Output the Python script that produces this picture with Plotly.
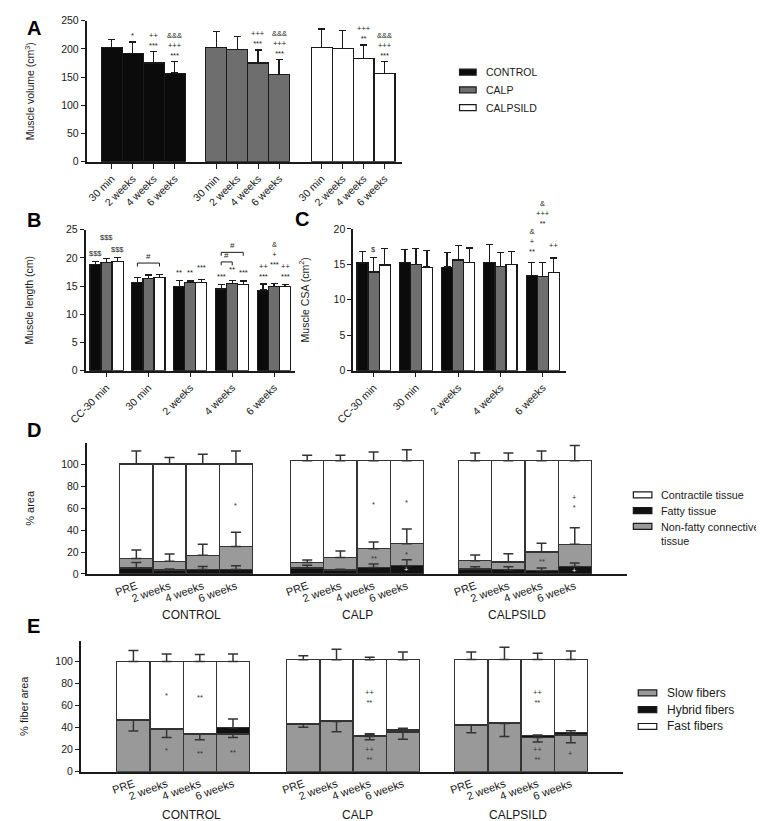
import numpy as np
import plotly.graph_objects as go

W, H = 764, 821
FONT = "Liberation Sans, Arial, sans-serif"
INK = "#1a1a1a"

# ---------------------------------------------------------------- data
groups = ["CONTROL", "CALP", "CALPSILD"]

# Panel A - muscle volume (cm3)
times_a = ["30 min", "2 weeks", "4 weeks", "6 weeks"]
vol_control = [203, 192, 175, 157]
vol_calp = [202, 199, 175, 155]
vol_calpsild = [203, 200, 183, 156]
vol_control_err = [14, 20, 20, 20]
vol_calp_err = [29, 23, 23, 26]
vol_calpsild_err = [32, 33, 24, 21]
vol_control_sig = ["", "*", "++<br>***", "&&&<br>+++<br>***"]
vol_calp_sig = ["", "", "+++<br>***", "&&&<br>+++<br>***"]
vol_calpsild_sig = ["", "", "+++<br>**", "&&&<br>+++<br>***"]

# Panel B - muscle length (cm)
times_bc = ["CC-30 min", "30 min", "2 weeks", "4 weeks", "6 weeks"]
len_control = [18.8, 15.6, 14.9, 14.5, 14.3]
len_calp = [19.2, 16.4, 15.6, 15.5, 14.9]
len_calpsild = [19.4, 16.5, 15.7, 15.3, 14.9]
len_control_err = [0.6, 0.9, 1.1, 0.8, 1.1]
len_calp_err = [0.7, 0.6, 0.3, 0.5, 0.6]
len_calpsild_err = [0.7, 0.6, 0.5, 0.6, 0.4]
len_control_sig = ["$$$", "", "**", "***", "++<br>***"]
len_calp_sig = ["$$$", "", "**", "**", "&<br>+<br>***"]
len_calpsild_sig = ["$$$", "", "***", "***", "++<br>***"]

# Panel C - muscle CSA (cm2)
csa_control = [15.2, 15.3, 14.6, 15.3, 13.4]
csa_calp = [13.9, 15.0, 15.6, 14.7, 13.3]
csa_calpsild = [14.9, 14.6, 15.3, 15.0, 13.8]
csa_control_err = [1.6, 1.8, 2.1, 2.5, 1.9]
csa_calp_err = [2.1, 2.2, 2.0, 2.0, 2.0]
csa_calpsild_err = [2.3, 2.3, 2.0, 1.8, 2.1]
csa_control_sig = ["", "", "", "", "&<br>+<br>**"]
csa_calp_sig = ["$", "", "", "", "&<br>+++<br>**"]
csa_calpsild_sig = ["", "", "", "", "++"]

# Panel D - % area
times_de = ["PRE", "2 weeks", "4 weeks", "6 weeks"]
fatty = {"CONTROL": [5.4, 3.6, 4.2, 4.0], "CALP": [5.4, 3.6, 6.0, 7.5], "CALPSILD": [4.5, 3.9, 3.0, 6.9]}
connective = {"CONTROL": [8.6, 8.0, 12.8, 21.0], "CALP": [5.0, 11.4, 17.0, 20.0], "CALPSILD": [7.5, 7.1, 17.0, 20.1]}
contractile = {"CONTROL": [86.0, 88.4, 83.0, 75.0], "CALP": [92.6, 88.0, 80.0, 75.5], "CALPSILD": [91.0, 92.0, 83.0, 76.0]}
fatty_err = {"CONTROL": [5.0, 1.0, 2.7, 3.5], "CALP": [2.5, 0.8, 3.0, 5.5], "CALPSILD": [2.1, 2.7, 2.4, 3.1]}
connective_err = {"CONTROL": [7.8, 6.6, 10.0, 13.0], "CALP": [2.4, 6.0, 6.0, 13.5], "CALPSILD": [5.3, 7.5, 8.0, 15.0]}
contractile_err = {"CONTROL": [12.0, 6.0, 9.0, 12.0], "CALP": [5.0, 5.0, 8.0, 10.0], "CALPSILD": [7.0, 7.0, 9.0, 14.0]}
contractile_sig = {"CONTROL": ["", "", "", "*"], "CALP": ["", "", "*", "*"], "CALPSILD": ["", "", "", "+<br>*"]}
connective_sig = {"CONTROL": ["", "", "", ""], "CALP": ["", "", "**", "*"], "CALPSILD": ["", "", "**", ""]}
fatty_sig = {"CONTROL": ["", "", "", ""], "CALP": ["", "", "", "+"], "CALPSILD": ["", "", "", "+"]}

# Panel E - % fiber area
slow = {"CONTROL": [46.9, 38.5, 34.0, 34.3], "CALP": [43.3, 45.7, 32.0, 36.0], "CALPSILD": [42.4, 43.9, 31.0, 33.4]}
hybrid = {"CONTROL": [0.4, 0.4, 0.4, 5.7], "CALP": [0.4, 0.4, 1.2, 2.0], "CALPSILD": [0.4, 0.4, 1.8, 2.1]}
fast = {"CONTROL": [52.7, 61.1, 65.6, 60.0], "CALP": [58.1, 55.7, 68.6, 63.8], "CALPSILD": [59.2, 57.7, 69.2, 66.5]}
slow_err = {"CONTROL": [10.0, 7.5, 5.0, 3.3], "CALP": [3.0, 9.3, 3.0, 6.5], "CALPSILD": [7.0, 12.0, 4.0, 7.0]}
hybrid_err = {"CONTROL": [0, 0, 0, 8.0], "CALP": [0, 0, 1.2, 1.5], "CALPSILD": [0, 0, 0.6, 1.8]}
fast_err = {"CONTROL": [10.0, 7.0, 6.5, 7.0], "CALP": [3.5, 9.5, 2.2, 7.0], "CALPSILD": [6.7, 11.0, 5.5, 7.6]}
fast_sig = {"CONTROL": ["", "*", "**", ""], "CALP": ["", "", "++<br>**", ""], "CALPSILD": ["", "", "++<br>**", ""]}
slow_sig = {"CONTROL": ["", "*", "**", "**"], "CALP": ["", "", "++<br>**", ""], "CALPSILD": ["", "", "++<br>**", "+"]}

# ---------------------------------------------------------------- layout helpers
def xdom(a, b):
    return [a / W, b / W]

def ydom(top, bottom):
    return [1 - bottom / H, 1 - top / H]

def px(a):
    return a / W

def py(b):
    return 1 - b / H

GROUP_FILL = {"CONTROL": "#0b0b0b", "CALP": "#6e6e6e", "CALPSILD": "#ffffff"}

fig = go.Figure()
annotations = []
shapes = []

axis_common = dict(showline=True, linecolor=INK, linewidth=1.5, showgrid=False, zeroline=False,
                   ticks="outside", tickcolor=INK, tickwidth=1.3, ticklen=4,
                   tickfont=dict(size=10.5, family=FONT, color=INK))


def sig_label(x, y, text, xref, yref, shift=1, size=7.5, color=INK):
    if not text:
        return
    annotations.append(dict(x=x, y=y, xref=xref, yref=yref, text=text, showarrow=False,
                            yanchor="bottom", yshift=shift, font=dict(size=size, family=FONT, color=color)))


def bar_trace(xs, ys, width, fill, xa, ya, err=None, name=None):
    kw = {}
    if err is not None:
        kw["error_y"] = dict(type="data", array=err, arrayminus=[0] * len(err), symmetric=False,
                             color=INK, thickness=1.3, width=3.5)
    return go.Bar(x=xs, y=ys, width=width, marker=dict(color=fill, line=dict(color=INK, width=1.2)),
                  xaxis=xa, yaxis=ya, showlegend=False, hoverinfo="skip", name=name, **kw)


# ---------------------------------------------------------------- Panel A
A_X0 = [77, 184, 292]
A_BW = 21.5
a_vals = [vol_control, vol_calp, vol_calpsild]
a_errs = [vol_control_err, vol_calp_err, vol_calpsild_err]
a_sigs = [vol_control_sig, vol_calp_sig, vol_calpsild_sig]
a_tickvals, a_ticktext = [], []
for g, name in enumerate(groups):
    xs = [A_X0[g] + (i + 0.5) * A_BW for i in range(len(times_a))]
    fig.add_trace(bar_trace(xs, a_vals[g], A_BW, GROUP_FILL[name], "x", "y", a_errs[g], name))
    a_tickvals += xs
    a_ticktext += times_a
    for i, t in enumerate(a_sigs[g]):
        sig_label(xs[i], a_vals[g][i] + a_errs[g][i], t, "x", "y", shift=0, size=7.5)

# ---------------------------------------------------------------- Panel B & C
def grouped_panel(xa, ya, x_first, step, bw, vals, errs, sigs, shifts):
    centers = [x_first + k * step for k in range(len(times_bc))]
    for g, name in enumerate(groups):
        xs = [c + (g - 1) * bw for c in centers]
        fig.add_trace(bar_trace(xs, vals[g], bw, GROUP_FILL[name], xa, ya, errs[g], name))
        for i, t in enumerate(sigs[g]):
            sig_label(xs[i], vals[g][i] + errs[g][i], t, xa, ya, shift=shifts[g][i], size=7.5)
    return centers

B_BW = 11.3
b_vals = [len_control, len_calp, len_calpsild]
b_errs = [len_control_err, len_calp_err, len_calpsild_err]
b_sigs = [len_control_sig, len_calp_sig, len_calpsild_sig]
b_shift = [[1, 0, 2, 1, 1], [15, 0, 2, 5, 12], [1, 0, 5, 2, 1]]
b_centers = grouped_panel("x2", "y2", 82.5, 42.9, B_BW, b_vals, b_errs, b_sigs, b_shift)

# brackets (#) in panel B: (time index, bar a, bar b, offset above highest error bar)
b_brackets = [(1, 0, 2, 2.0), (3, 0, 1, 3.3), (3, 0, 2, 5.0)]
for t, i, j, off in b_brackets:
    xa_ = b_centers[t] + (i - 1) * B_BW
    xb_ = b_centers[t] + (j - 1) * B_BW
    top = max(b_vals[k][t] + b_errs[k][t] for k in range(3)) + off
    shapes.append(dict(type="path", xref="x2", yref="y2",
                       path=f"M {xa_},{top - 0.6} L {xa_},{top} L {xb_},{top} L {xb_},{top - 0.6}",
                       line=dict(color=INK, width=1)))
    sig_label((xa_ + xb_) / 2, top, "#", "x2", "y2", shift=0, size=8)

C_BW = 11.3
c_vals = [csa_control, csa_calp, csa_calpsild]
c_errs = [csa_control_err, csa_calp_err, csa_calpsild_err]
c_sigs = [csa_control_sig, csa_calp_sig, csa_calpsild_sig]
c_shift = [[1, 1, 1, 1, 4], [1, 1, 1, 1, 32], [1, 1, 1, 1, 6]]
c_centers = grouped_panel("x3", "y3", 356, 43.3, C_BW, c_vals, c_errs, c_sigs, c_shift)

# ---------------------------------------------------------------- Panel D & E (stacked)
D_X0 = [96, 271, 443]
E_X0 = [93, 267, 439]
SEG_W = 34


def err_trace(xs, ys, up, down, xa, ya):
    keep = [k for k in range(len(xs)) if (up[k] > 0 or down[k] > 0)]
    return go.Scatter(x=[xs[k] for k in keep], y=[ys[k] for k in keep], mode="markers",
                      marker=dict(color="rgba(0,0,0,0)", size=1), xaxis=xa, yaxis=ya,
                      showlegend=False, hoverinfo="skip",
                      error_y=dict(type="data", symmetric=False, array=[up[k] for k in keep],
                                   arrayminus=[down[k] for k in keep], color="#333333",
                                   thickness=1.5, width=5))


def stacked_panel(xa, ya, x0s, segs, seg_fills, errs_up, errs_down, sig_lists, sig_colors):
    tickvals, ticktext = [], []
    for g, name in enumerate(groups):
        xs = [x0s[g] + (i + 0.5) * SEG_W for i in range(len(times_de))]
        tickvals += xs
        ticktext += times_de
        base = np.zeros(len(xs))
        for s, seg in enumerate(segs):
            vals = np.array(seg[name], dtype=float)
            fig.add_trace(go.Bar(x=xs, y=vals, width=SEG_W, xaxis=xa, yaxis=ya, showlegend=False,
                                 hoverinfo="skip",
                                 marker=dict(color=seg_fills[s], line=dict(color="#333333", width=1.3))))
            top = base + vals
            up = errs_up[s][name] if errs_up[s] is not None else [0] * len(xs)
            down = errs_down[s][name] if errs_down[s] is not None else [0] * len(xs)
            fig.add_trace(err_trace(xs, list(top), up, down, xa, ya))
            if sig_lists[s] is not None:
                for i, t in enumerate(sig_lists[s][name]):
                    if t:
                        annotations.append(dict(x=xs[i], y=(base[i] + top[i]) / 2, xref=xa, yref=ya,
                                                text=t, showarrow=False, yanchor="middle",
                                                font=dict(size=7.5, family=FONT, color=sig_colors[s])))
            base = top
    return tickvals, ticktext


d_tv, d_tt = stacked_panel("x4", "y4", D_X0, [fatty, connective, contractile],
                           ["#111111", "#9a9a9a", "#ffffff"],
                           [fatty_err, connective_err, contractile_err], [None, None, None],
                           [fatty_sig, connective_sig, contractile_sig], ["#ffffff", "#333333", "#333333"])

e_tv, e_tt = stacked_panel("x5", "y5", E_X0, [slow, hybrid, fast],
                           ["#999999", "#111111", "#ffffff"],
                           [None, hybrid_err, fast_err], [slow_err, None, None],
                           [slow_sig, None, fast_sig], ["#333333", "#ffffff", "#333333"])

# ---------------------------------------------------------------- axes
title_font = dict(size=10.5, family=FONT, color=INK)
fig.update_layout(
    xaxis=dict(axis_common, domain=xdom(62, 385), range=[62, 385], tickvals=a_tickvals,
               ticktext=a_ticktext, tickangle=-45, ticklen=5, anchor="y"),
    yaxis=dict(axis_common, domain=ydom(6.7, 150), range=[0, 250], tickvals=[0, 50, 100, 150, 200, 250],
               title=dict(text="Muscle volume (cm<sup>3</sup>)", font=title_font, standoff=24), anchor="x"),
    xaxis2=dict(axis_common, domain=xdom(61, 276), range=[61, 276], tickvals=b_centers,
                ticktext=times_bc, tickangle=-45, ticklen=5, anchor="y2"),
    yaxis2=dict(axis_common, domain=ydom(219, 362), range=[0, 25], tickvals=[0, 5, 10, 15, 20, 25],
                title=dict(text="Muscle length (cm)", font=title_font, standoff=30), anchor="x2"),
    xaxis3=dict(axis_common, domain=xdom(335, 553), range=[335, 553], tickvals=c_centers,
                ticktext=times_bc, tickangle=-45, ticklen=5, anchor="y3"),
    yaxis3=dict(axis_common, domain=ydom(218, 362), range=[0, 20], tickvals=[0, 5, 10, 15, 20],
                title=dict(text="Muscle CSA (cm<sup>2</sup>)", font=title_font, standoff=22), anchor="x3"),
    xaxis4=dict(axis_common, domain=xdom(62, 615), range=[62, 615], tickvals=d_tv, ticktext=d_tt,
                tickangle=-20, ticks="", tickfont=dict(size=11, family=FONT, color=INK), anchor="y4"),
    yaxis4=dict(axis_common, domain=ydom(435, 568.3), range=[0, 119.5], tickvals=[0, 20, 40, 60, 80, 100],
                title=dict(text="% area", font=dict(size=11, family=FONT, color=INK), standoff=24),
                anchor="x4"),
    xaxis5=dict(axis_common, domain=xdom(56, 611), range=[56, 611], tickvals=e_tv, ticktext=e_tt,
                tickangle=-20, ticks="", tickfont=dict(size=11, family=FONT, color=INK), anchor="y5"),
    yaxis5=dict(axis_common, domain=ydom(636, 769), range=[0, 119], tickvals=[0, 20, 40, 60, 80, 100],
                title=dict(text="% fiber area", font=dict(size=11, family=FONT, color=INK), standoff=24),
                anchor="x5"),
)

# ---------------------------------------------------------------- panel letters & group labels
for letter, (lx, ly) in {"A": (8, 14), "B": (8, 209), "C": (283, 208), "D": (8, 422), "E": (8, 621)}.items():
    annotations.append(dict(x=px(lx), y=py(ly), xref="paper", yref="paper", text=f"<b>{letter}</b>",
                            showarrow=False, xanchor="center", yanchor="middle",
                            font=dict(size=20, family=FONT, color="#000")))

for g, name in enumerate(groups):
    for gx, gy in [([170, 340, 503][g], 610), ([170, 340, 504][g], 813)]:
        annotations.append(dict(x=px(gx), y=py(gy), xref="paper", yref="paper", text=name,
                                showarrow=False, xanchor="center", yanchor="middle",
                                font=dict(size=12, family=FONT, color=INK)))

# ---------------------------------------------------------------- legends (manual)
def legend_item(x0, x1, yc, h, fill, text, tx, size, border=INK):
    shapes.append(dict(type="rect", xref="paper", yref="paper", x0=px(x0), x1=px(x1),
                       y0=py(yc + h / 2), y1=py(yc - h / 2), fillcolor=fill, line=dict(color=border, width=1.2)))
    annotations.append(dict(x=px(tx), y=py(yc), xref="paper", yref="paper", text=text, showarrow=False,
                            xanchor="left", yanchor="middle", align="left",
                            font=dict(size=size, family=FONT, color=INK)))

for name, yc in zip(groups, [59, 77, 95]):
    legend_item(444, 461, yc, 6, GROUP_FILL[name], name, 469, 10.5)

for label, fill, yc in [("Contractile tissue", "#ffffff", 488), ("Fatty tissue", "#111111", 504),
                        ("Non-fatty connective<br>tissue", "#9a9a9a", 520)]:
    legend_item(622, 641, yc, 6, fill, label, 648, 10.8)
# move the two-line label so its first line is level with its swatch
annotations[-1].update(yanchor="top", y=py(512))

for label, fill, yc in [("Slow fibers", "#999999", 689), ("Hybrid fibers", "#111111", 706),
                        ("Fast fibers", "#ffffff", 723)]:
    legend_item(627, 646, yc, 6, fill, label, 654, 12)

fig.update_layout(
    width=W, height=H, margin=dict(l=0, r=0, t=0, b=0),
    paper_bgcolor="white", plot_bgcolor="white",
    barmode="stack", showlegend=False,
    font=dict(family=FONT, color=INK),
    annotations=annotations, shapes=shapes,
)

fig.write_html("out.html")
